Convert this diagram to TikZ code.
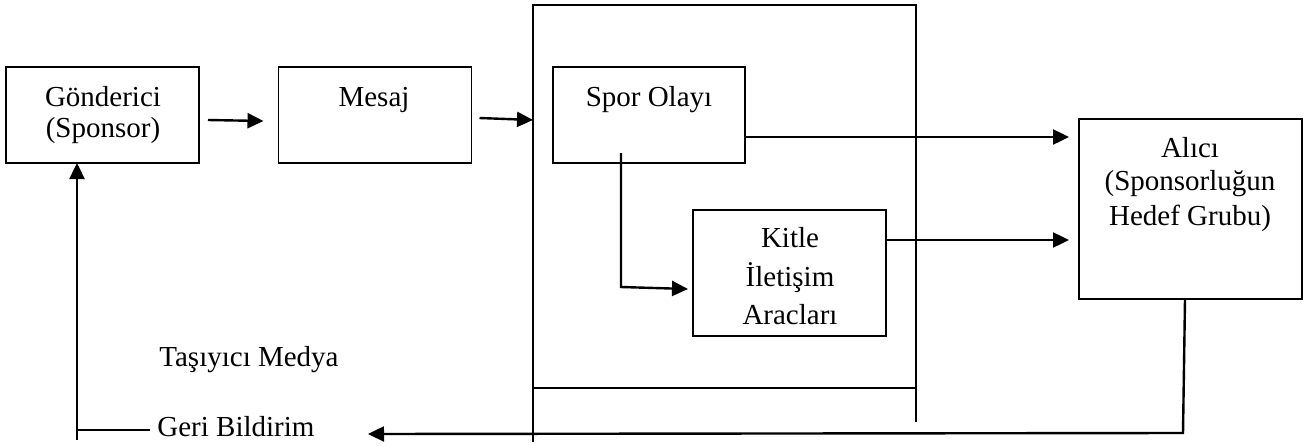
\documentclass[tikz,border=0pt]{standalone}
\usepackage{fontspec}
\setmainfont{Liberation Serif}
\usetikzlibrary{arrows.meta,calc}
\begin{document}
\begin{tikzpicture}[x=0.5pt,y=-0.5pt,
  box/.style={draw,line width=0.85pt,rectangle,inner sep=0pt,outer sep=0pt},
  txt/.style={inner sep=0pt,anchor=base,font=\fontsize{14.5}{17}\selectfont},
  txtl/.style={txt,anchor=base west},
  arr/.style={line width=1.2pt,-{Triangle[length=8pt,width=7.5pt]}},
  ln/.style={line width=1.2pt},
  frame/.style={line width=1pt}]
\useasboundingbox (0,0) rectangle (1306,445);

% boxes
\node[box,minimum width=96.5pt,minimum height=48pt] (g) at (102.5,115) {};
\node[box,minimum width=96.5pt,minimum height=48pt] (m) at (375,115) {};
\node[box,minimum width=96pt,minimum height=48pt] (s) at (649,115) {};
\node[box,minimum width=96.5pt,minimum height=63pt] (k) at (789.5,273) {};
\node[box,minimum width=111.5pt,minimum height=90pt] (a) at (1190.5,209) {};

% box texts
\node[txt] (g1) at (103,106.5) {Gönderici};
\node[txt] (g2) at (103,137) {(Sponsor)};
\node[txt] (m1) at (374,106) {Mesaj};
\node[txt] (s1) at (649,106.5) {Spor Olayı};
\node[txt] (k1) at (790,247) {Kitle};
\node[txt] (k2) at (790,286) {İletişim};
\node[txt] (k3) at (790,324) {Aracları};
\node[txt] (a1) at (1190,157) {Alıcı};
\node[txt] (a2) at (1190,190) {(Sponsorluğun};
\node[txt] (a3) at (1190,225) {Hedef Grubu)};

% carrier media frame
\coordinate (fTL) at (533,5);
\coordinate (fTR) at (916,5);
\coordinate (fBL) at (533,442);
\coordinate (fBR) at (916,422);
\draw[frame] (fBL) -- (fTL) -- (fTR) -- (fBR);
\draw[frame] (fTL |- 0,388) -- (fTR |- 0,388);

% free texts
\node[txtl] (tm) at (159,366.5) {Taşıyıcı Medya};
\node[txtl] (gb) at (157,436) {Geri Bildirim};

% flow arrows
\draw[arr] ($(g.east)+(9,5)$) -- ($(m.west)+(-15,6)$);
\draw[arr] ($(m.east)+(8,3)$) -- (fTL |- 0,120);
\draw[arr] ($(s.east)+(0,22)$) -- ($(a.west)+(-10,-72)$);
\draw[arr] ($(k.east)+(0,-33)$) -- ($(a.west)+(-10,31)$);
\draw[arr] ($(s.south)+(-28,-10)$) -- ++(0,134) -- ($(k.west)+(-5,16)$);

% feedback loop
\coordinate (fb) at (368,434);
\coordinate (gbot) at (77,440);
\coordinate (gl) at (150,430);
\draw[arr] ($(a.south)+(-5.5,0)$) -- ++(-2,134) -- (fb);
\draw[arr] (gbot) -- (gbot |- g.south);
\draw[ln] (gbot |- gl) -- (gl);
\end{tikzpicture}
\end{document}
